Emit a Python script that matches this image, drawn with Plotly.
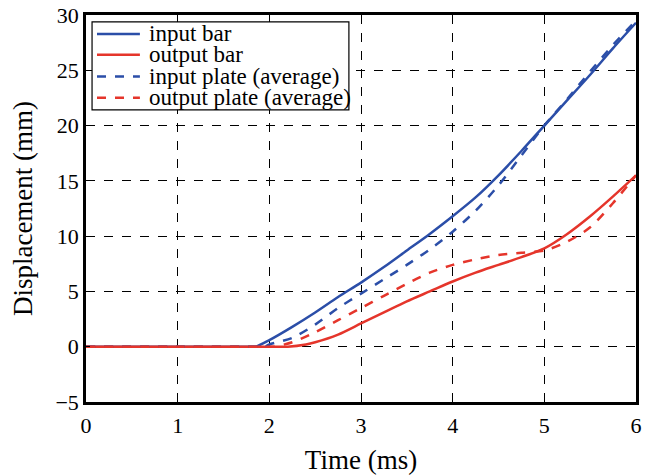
import plotly.graph_objects as go

# time axis (ms) and displacement (mm)
t_input_bar = [0, 1.0, 1.8, 1.85, 2.0, 2.25, 2.5, 2.75, 3.0, 3.25, 3.5, 3.75, 4.0, 4.25, 4.5, 4.75, 5.0, 5.25, 5.5, 5.75, 6.0]
d_input_bar = [0, 0, 0, 0, 0.6, 1.8, 3.1, 4.5, 5.8, 7.2, 8.7, 10.2, 11.8, 13.5, 15.5, 17.7, 20.0, 22.3, 24.6, 27.0, 29.3]

t_output_bar = [0, 1.0, 2.15, 2.2, 2.4, 2.5, 2.75, 3.0, 3.25, 3.5, 3.75, 4.0, 4.25, 4.5, 4.75, 5.0, 5.25, 5.5, 5.75, 6.0]
d_output_bar = [0, 0, 0, 0, 0.2, 0.4, 1.1, 2.1, 3.1, 4.1, 5.0, 5.9, 6.7, 7.4, 8.1, 8.9, 10.2, 11.8, 13.6, 15.5]

t_input_plate = [0, 1.0, 1.9, 1.95, 2.0, 2.25, 2.5, 2.75, 3.0, 3.25, 3.5, 3.75, 4.0, 4.25, 4.5, 4.75, 5.0, 5.25, 5.5, 5.75, 6.0]
d_input_plate = [0, 0, 0, 0, 0.2, 0.8, 2.0, 3.5, 4.8, 6.1, 7.4, 8.8, 10.4, 12.3, 14.6, 17.3, 20.0, 22.4, 24.9, 27.3, 29.5]

t_output_plate = [0, 1.0, 2.0, 2.05, 2.25, 2.5, 2.75, 3.0, 3.25, 3.5, 3.75, 4.0, 4.25, 4.5, 4.75, 5.0, 5.25, 5.5, 5.75, 6.0]
d_output_plate = [0, 0, 0, 0, 0.4, 1.3, 2.4, 3.5, 4.6, 5.7, 6.7, 7.4, 7.9, 8.3, 8.5, 8.7, 9.5, 10.8, 13.0, 15.5]

x_ticks = [0, 1, 2, 3, 4, 5, 6]
y_ticks = [-5, 0, 5, 10, 15, 20, 25, 30]

BLUE = "#2b4ea8"
RED = "#e5352b"
FONT = "Liberation Serif"

series = [
    ("input bar", t_input_bar, d_input_bar, BLUE, "solid"),
    ("output bar", t_output_bar, d_output_bar, RED, "solid"),
    ("input plate (average)", t_input_plate, d_input_plate, BLUE, "dash"),
    ("output plate (average)", t_output_plate, d_output_plate, RED, "dash"),
]

fig = go.Figure()
for name, t, d, color, dash in series:
    fig.add_trace(
        go.Scatter(
            x=t,
            y=d,
            name=name,
            mode="lines",
            showlegend=False,
            line=dict(color=color, width=2.5, dash=dash, shape="spline", smoothing=0.8),
        )
    )

# hand-drawn legend box so the row spacing can be tight like the original
legend_x0, legend_x1 = 0.011, 0.478
legend_y0, legend_y1 = 0.755, 0.982
row_y = [0.951, 0.897, 0.841, 0.786]
fig.add_shape(
    type="rect", xref="paper", yref="paper",
    x0=legend_x0, x1=legend_x1, y0=legend_y0, y1=legend_y1,
    line=dict(color="black", width=1.2), fillcolor="white", layer="above",
)
for (name, _, _, color, dash), y in zip(series, row_y):
    fig.add_shape(
        type="line", xref="paper", yref="paper",
        x0=0.02, x1=0.098, y0=y, y1=y,
        line=dict(color=color, width=2.5, dash=dash), layer="above",
    )
    fig.add_annotation(
        xref="paper", yref="paper", x=0.11, y=y,
        xanchor="left", yanchor="middle", showarrow=False,
        text=name, font=dict(family=FONT, size=23, color="black"),
    )

axis_common = dict(
    showline=True,
    linecolor="black",
    linewidth=2.5,
    mirror=True,
    showgrid=True,
    gridcolor="black",
    gridwidth=1,
    griddash="dash",
    zeroline=False,
    ticks="inside",
    ticklen=4,
    tickcolor="black",
    automargin=False,
    ticklabeloverflow="allow",
    tickfont=dict(family=FONT, size=22, color="black"),
)

fig.update_xaxes(
    range=[0, 6],
    tickvals=x_ticks,
    ticklabelstandoff=2,
    title=dict(text="Time (ms)", font=dict(family=FONT, size=27, color="black")),
    **axis_common,
)
fig.update_yaxes(
    range=[-5, 30],
    tickvals=y_ticks,
    ticktext=[str(v).replace("-", "\u2212") for v in y_ticks],
    title=dict(text="Displacement (mm)", font=dict(family=FONT, size=27, color="black")),
    **axis_common,
)

# the page body adds an 8px offset, so the figure is a little smaller than the window
fig.update_layout(
    width=643,
    height=467,
    margin=dict(l=78, r=15, t=7, b=73),
    plot_bgcolor="white",
    paper_bgcolor="white",
    font=dict(family=FONT, color="black"),
    showlegend=False,
)

fig.write_html("out.html")
